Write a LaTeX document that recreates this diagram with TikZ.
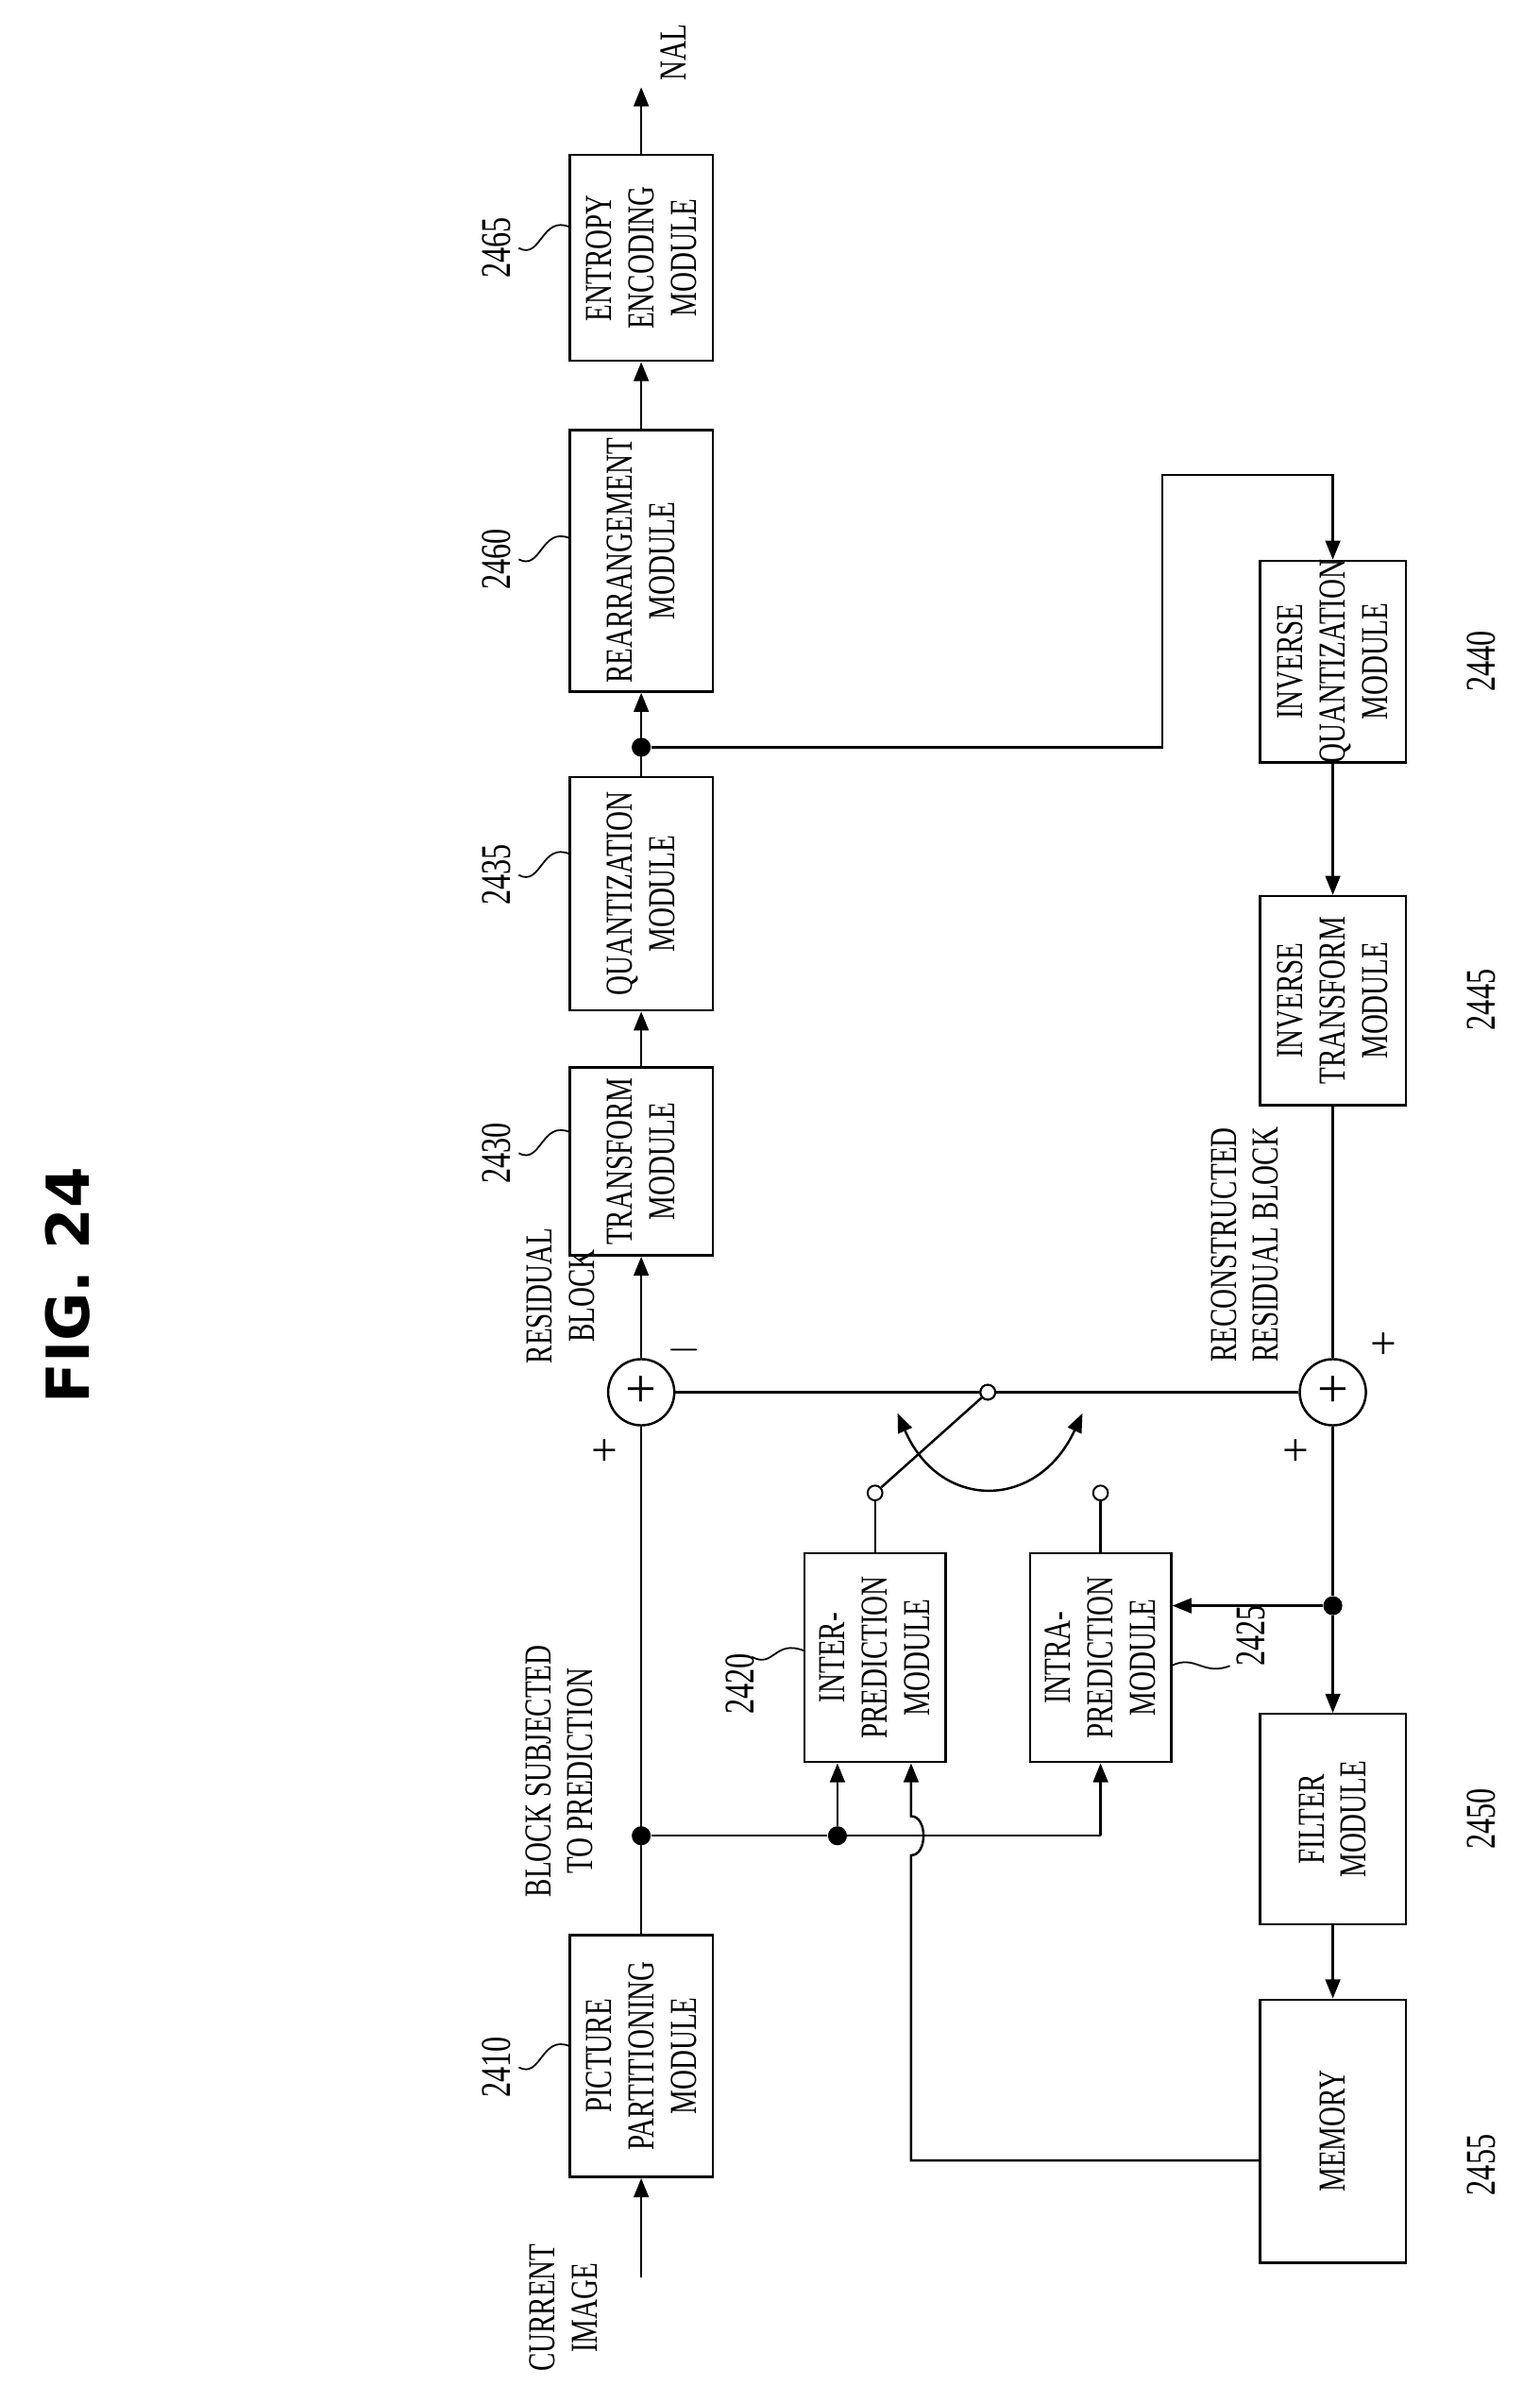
\documentclass[tikz,border=0pt]{standalone}
\usepackage{fontspec}
\setmainfont{Liberation Serif}
\newfontfamily\cond[FakeStretch=0.72]{Liberation Serif}
\newfontfamily\figf{DejaVu Sans}
\usetikzlibrary{arrows.meta}
\begin{document}
\begin{tikzpicture}[x=0.025cm,y=-0.025cm,
  box/.style={draw,line width=1.1pt,inner sep=0pt},
  txt/.style={rotate=90,align=center,font=\cond\fontsize{18}{20}\selectfont,inner sep=1pt},
  num/.style={rotate=90,font=\cond\fontsize{20}{22}\selectfont,inner sep=1pt},
  ln/.style={line width=1.1pt},
  arr/.style={line width=1.1pt,-{Triangle[length=9pt,width=7pt]}},
  dot/.style={circle,fill,inner sep=0pt,minimum size=9pt},
  sw/.style={circle,draw,line width=0.9pt,inner sep=0pt,minimum size=7pt,fill=white},
  sum/.style={circle,draw,line width=1.1pt,minimum size=1.1cm,inner sep=0pt}]
\useasboundingbox (0,0) rectangle (1024,1587);
\newcommand\bx[6]{\node[box,minimum width=#4*0.025cm,minimum height=#5*0.025cm] (#1) at (#2,#3) {};
  \node[txt] at (#2,#3) {#6};}
\node[rotate=90,font=\figf\bfseries\fontsize{28}{30}\selectfont] (fig) at (45,855) {FIG. 24};
\bx{pp}{426.5}{1367.5}{95}{161}{PICTURE\\PARTITIONING\\MODULE}
\bx{inter}{582}{1102.5}{94}{139}{INTER-\\PREDICTION\\MODULE}
\bx{intra}{732}{1102.5}{94}{139}{INTRA-\\PREDICTION\\MODULE}
\bx{tr}{426.5}{772.5}{95}{125}{TRANSFORM\\MODULE}
\bx{qu}{426.5}{594.5}{95}{155}{QUANTIZATION\\MODULE}
\bx{re}{426.5}{373}{95}{174}{REARRANGEMENT\\MODULE}
\bx{en}{426.5}{171.5}{95}{137}{ENTROPY\\ENCODING\\MODULE}
\bx{iq}{886.5}{440}{97}{134}{INVERSE\\QUANTIZATION\\MODULE}
\bx{it}{886.5}{665.5}{97}{139}{INVERSE\\TRANSFORM\\MODULE}
\bx{fi}{886.5}{1210}{97}{140}{FILTER\\MODULE}
\bx{me}{886.5}{1417.5}{97}{175}{MEMORY}
\node[sum] (s1) at (426.5,926) {}; \node[font=\fontsize{26}{26}\selectfont] at (426.5,926) {+};
\node[sum] (s2) at (886.5,926) {}; \node[font=\fontsize{26}{26}\selectfont] at (886.5,926) {+};
\node[dot] (d1) at (426.5,1221) {};
\node[dot] (d2) at (426.5,497) {};
\node[dot] (d3) at (886.5,1068) {};
\node[dot] (d4) at (557,1221) {};
\node[sw] (sw0) at (657,926) {};
\node[sw] (sw1) at (582,993) {};
\node[sw] (sw2) at (732,993) {};
\coordinate (ci) at (426.5,1515);
\coordinate (nal) at (426.5,58);
% main path
\draw[arr] (ci) -- (pp.south);
\draw[ln] (pp.north) -- (s1.south);
\draw[arr] (s1.north) -- (tr.south);
\draw[arr] (tr.north) -- (qu.south);
\draw[arr] (qu.north) -- (re.south);
\draw[arr] (re.north) -- (en.south);
\draw[arr] (en.north) -- (nal);
\draw[arr] (d2) -- (773,497) -- (773,316) -- (886.5,316) -- (iq.north);
\draw[arr] (iq.south) -- (it.north);
\draw[ln] (it.south) -- (s2.north);
\draw[ln] (s2.south) -- (d3);
\draw[arr] (d3) -- (fi.north);
\draw[arr] (d3) -- (intra.east |- d3);
\draw[arr] (fi.south) -- (me.north);
\draw[ln] (d1) -- (d4) -- (732,1221);
\draw[arr] (732,1221) -- (intra.south);
\draw[arr] (d4) -- (inter.south -| d4);
\draw[arr] (me.west |- 0,1437) -- (606,1437) -- (606,1234) .. controls (617,1234) and (617,1208) .. (606,1208) -- (inter.south -| 606,0);
% switch
\draw[ln] (s1.east) -- (sw0) -- (s2.west);
\draw[ln] (inter.north -| sw1) -- (sw1);
\draw[ln] (intra.north -| sw2) -- (sw2);
\draw[ln] (sw1) -- (sw0);
\node[sw] at (657,926) {};
\draw[line width=1.1pt,{Triangle[length=9pt,width=7pt]}-{Triangle[length=9pt,width=7pt]}] (597,940) .. controls (625,1005) and (690,1005) .. (720,940);
% signs
\node[font=\fontsize{22}{22}\selectfont] at (402,966) {+};
\node[font=\fontsize{22}{22}\selectfont] at (455,898) {$-$};
\node[font=\fontsize{22}{22}\selectfont] at (862,966) {+};
\node[font=\fontsize{22}{22}\selectfont] at (920,895) {+};
% labels
\node[txt] at (375,1535) {CURRENT\\IMAGE};
\node[txt] at (448,35) {NAL};
\node[txt] at (373,862) {RESIDUAL\\BLOCK};
\node[txt] at (372,1178) {BLOCK SUBJECTED\\TO PREDICTION};
\node[txt] at (828,828) {RECONSTRUCTED\\RESIDUAL BLOCK};
% numbers
\node[num] (n2410) at (330,1375) {2410};
\node[num] (n2430) at (330,767) {2430};
\node[num] (n2435) at (330,582) {2435};
\node[num] (n2460) at (330,372) {2460};
\node[num] (n2465) at (330,165) {2465};
\node[num] (n2420) at (492,1120) {2420};
\node[num] (n2425) at (832,1088) {2425};
\node[num] (n2440) at (985,440) {2440};
\node[num] (n2445) at (985,665) {2445};
\node[num] (n2450) at (985,1210) {2450};
\node[num] (n2455) at (985,1440) {2455};
\foreach \y in {1375,767,582,372,165}{
  \draw[line width=0.8pt] (345,\y) .. controls (360,\y+8) and (360,\y-22) .. (379,\y-14);}
\draw[line width=0.8pt] (500,1102) .. controls (515,1110) and (515,1090) .. (535,1098);
\draw[line width=0.8pt] (779,1108) .. controls (795,1100) and (800,1115) .. (818,1108);
\end{tikzpicture}
\end{document}
